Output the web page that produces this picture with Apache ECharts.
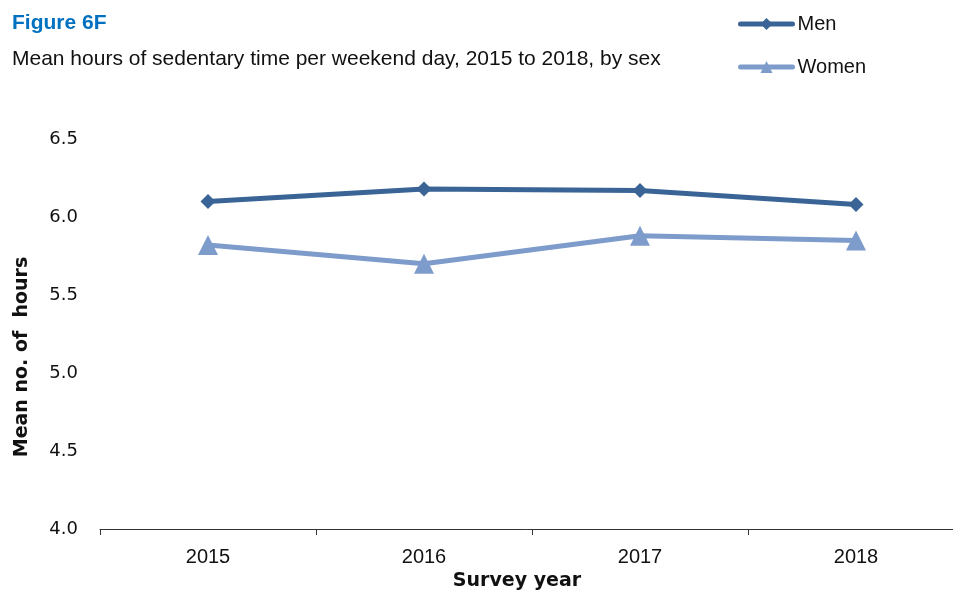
<!DOCTYPE html>
<html>
<head>
<meta charset="utf-8">
<script src="https://cdn.jsdelivr.net/npm/echarts@6/dist/echarts.min.js"></script>
<style>
  html, body { margin: 0; padding: 0; background: #fff; }
  #chart { width: 953px; height: 591px; }
</style>
</head>
<body>
<div id="chart"></div>
<script>
// Chart data
var years = ['2015', '2016', '2017', '2018'];
var menHours = [6.10, 6.18, 6.17, 6.08];
var womenHours = [5.82, 5.70, 5.88, 5.85];

var chart = echarts.init(document.getElementById('chart'));

chart.setOption({
    color: ['#3A6496', '#7E9CCB'],
    animation: false,

    // Title block
    title: [{
        text: 'Figure 6F',
        left: 12,
        top: 13,
        padding: 0,
        textStyle: {
            color: '#0070C0',
            fontFamily: 'Arial, Liberation Sans, sans-serif',
            fontWeight: 'bold',
            fontSize: 21
        }
    }, {
        text: 'Mean hours of sedentary time per weekend day, 2015 to 2018, by sex',
        left: 12,
        top: 49,
        padding: 0,
        textStyle: {
            color: '#111',
            fontFamily: 'Arial, Liberation Sans, sans-serif',
            fontWeight: 'normal',
            fontSize: 21
        }
    }],

    // Legend
    legend: {
        data: ['Men', 'Women'],
        orient: 'vertical',
        left: 738,
        top: 14,
        padding: 0,
        itemWidth: 52,
        itemHeight: 15,
        itemGap: 23,
        lineStyle: { width: 5, cap: 'round' },
        textStyle: {
            fontFamily: 'Arial, Liberation Sans, sans-serif',
            fontSize: 20,
            color: '#111'
        }
    },

    grid: {
        left: 100,
        top: 139,
        width: 864,
        height: 390,
        outerBoundsMode: 'none'
    },

    xAxis: {
        type: 'category',
        data: years,
        boundaryGap: true,
        name: 'Survey year',
        nameLocation: 'middle',
        nameGap: 43,
        nameTextStyle: {
            fontFamily: 'DejaVu Sans, Verdana, sans-serif',
            fontWeight: 'bold',
            fontSize: 19,
            color: '#111',
            padding: [0, 30, 0, 0]
        },
        axisLine: { lineStyle: { color: '#333', width: 1 } },
        axisTick: { show: true, length: 6, lineStyle: { color: '#333' } },
        axisLabel: {
            fontFamily: 'Arial, Liberation Sans, sans-serif',
            fontSize: 20,
            color: '#111',
            margin: 18
        }
    },

    yAxis: {
        type: 'value',
        min: 4.0,
        max: 6.5,
        interval: 0.5,
        name: 'Mean no. of  hours',
        nameLocation: 'middle',
        nameGap: 68,
        nameTextStyle: {
            fontFamily: 'DejaVu Sans, Verdana, sans-serif',
            fontWeight: 'bold',
            fontSize: 19,
            color: '#111',
            padding: [0, 46, 0, 0]
        },
        axisLine: { show: false },
        axisTick: { show: false },
        splitLine: { show: false },
        axisLabel: {
            formatter: function (v) { return v.toFixed(1); },
            fontFamily: 'DejaVu Sans, Verdana, sans-serif',
            fontSize: 18,
            color: '#111',
            margin: 22,
            padding: [4, 0, 0, 0]
        }
    },

    series: [{
        name: 'Men',
        type: 'line',
        data: menHours,
        symbol: 'diamond',
        symbolSize: 15,
        lineStyle: { width: 5 },
        itemStyle: { color: '#3A6496' }
    }, {
        name: 'Women',
        type: 'line',
        data: womenHours,
        symbol: 'triangle',
        symbolSize: 20,
        lineStyle: { width: 5 },
        itemStyle: { color: '#7E9CCB' }
    }]
});
</script>
</body>
</html>
